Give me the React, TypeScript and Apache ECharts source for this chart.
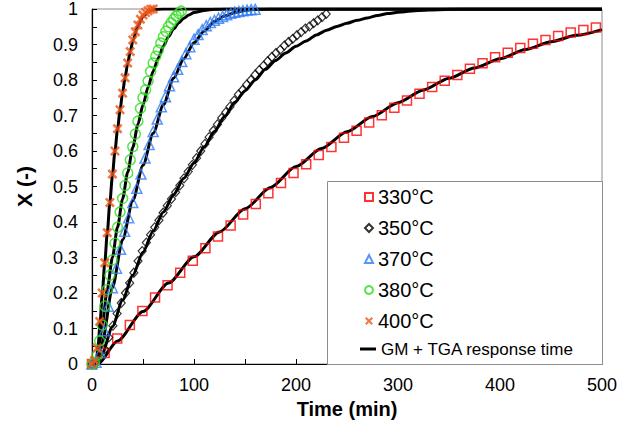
import React, { useEffect, useRef } from "react";
import * as echarts from "echarts";

// ---- Experimental data (time in min, conversion X) ----
const t330 = [0, 12.4, 24.7, 37.1, 49.4, 61.8, 74.1, 86.5, 98.8, 111.2, 123.5, 135.9, 148.2, 160.6, 172.9, 185.3, 197.6, 210, 222.3, 234.7, 247, 259.4, 271.7, 284.1, 296.4, 308.8, 321.1, 333.5, 345.8, 358.2, 370.5, 382.9, 395.2, 407.6, 419.9, 432.3, 444.6, 457, 469.3, 481.7, 494];
const x330 = [0, 0.031, 0.072, 0.11, 0.149, 0.187, 0.222, 0.257, 0.291, 0.326, 0.359, 0.39, 0.421, 0.451, 0.481, 0.51, 0.538, 0.563, 0.589, 0.611, 0.637, 0.657, 0.68, 0.701, 0.722, 0.742, 0.761, 0.78, 0.798, 0.814, 0.832, 0.847, 0.864, 0.877, 0.89, 0.902, 0.913, 0.924, 0.934, 0.941, 0.948];

const t350 = [0, 4.1, 8.2, 12.3, 16.4, 20.5, 24.6, 28.7, 32.8, 36.9, 41, 45.1, 49.2, 53.3, 57.4, 61.5, 65.6, 69.7, 73.8, 77.9, 82, 86.1, 90.2, 94.3, 98.4, 102.5, 106.6, 110.7, 114.8, 118.9, 123, 127.1, 131.2, 135.3, 139.4, 143.5, 147.6, 151.7, 155.8, 159.9, 164, 168.1, 172.2, 176.3, 180.4, 184.5, 188.6, 192.7, 196.8, 200.9, 205, 209.1, 213.2, 217.3, 221.4, 225.5, 229.6];
const x350 = [0, 0.003, 0.018, 0.042, 0.075, 0.108, 0.142, 0.172, 0.2, 0.228, 0.257, 0.29, 0.318, 0.342, 0.364, 0.385, 0.405, 0.426, 0.446, 0.465, 0.484, 0.503, 0.523, 0.542, 0.561, 0.58, 0.6, 0.62, 0.639, 0.657, 0.675, 0.693, 0.709, 0.725, 0.742, 0.759, 0.772, 0.787, 0.8, 0.815, 0.828, 0.84, 0.853, 0.865, 0.876, 0.885, 0.897, 0.907, 0.916, 0.926, 0.935, 0.945, 0.951, 0.96, 0.968, 0.977, 0.986];

const t370 = [0, 4, 8, 12, 16, 20, 24, 28, 32, 36, 40, 44, 48, 52, 56, 60, 64, 68, 72, 76, 80, 84, 88, 92, 96, 100, 104, 108, 112, 116, 120, 124, 128, 132, 136, 140, 144, 148, 152, 156, 160];
const x370 = [0, 0.005, 0.032, 0.094, 0.163, 0.215, 0.27, 0.323, 0.374, 0.412, 0.455, 0.495, 0.535, 0.58, 0.618, 0.655, 0.69, 0.725, 0.753, 0.784, 0.809, 0.83, 0.852, 0.874, 0.894, 0.915, 0.928, 0.942, 0.953, 0.962, 0.968, 0.974, 0.979, 0.984, 0.988, 0.991, 0.993, 0.995, 0.997, 0.998, 0.999];

const t380 = [0, 2.5, 5, 7.5, 10, 12.5, 15, 17.5, 20, 22.5, 25, 27.5, 30, 32.5, 35, 37.5, 40, 42.5, 45, 47.5, 50, 52.5, 55, 57.5, 60, 62.5, 65, 67.5, 70, 72.5, 75, 77.5, 80, 82.5, 85, 87.5];
const x380 = [0, 0.005, 0.025, 0.065, 0.11, 0.163, 0.21, 0.25, 0.293, 0.34, 0.385, 0.428, 0.466, 0.503, 0.538, 0.575, 0.612, 0.648, 0.684, 0.72, 0.75, 0.772, 0.797, 0.824, 0.848, 0.867, 0.884, 0.904, 0.922, 0.937, 0.95, 0.961, 0.971, 0.98, 0.988, 0.994];

const t400 = [0, 2.5, 5, 7.5, 10, 12.5, 15, 17.5, 20, 22.5, 25, 27.5, 30, 32.5, 35, 37.5, 40, 42.5, 45, 47.5, 50, 52.5, 55, 57.5, 60];
const x400 = [0, 0.01, 0.045, 0.12, 0.2, 0.285, 0.37, 0.455, 0.535, 0.6, 0.663, 0.716, 0.763, 0.806, 0.848, 0.88, 0.913, 0.936, 0.955, 0.971, 0.983, 0.99, 0.995, 0.999, 1.0];

// ---- Model curves (GM + TGA response time) ----
const m330T = [0, 6, 25, 50, 75, 100, 125, 150, 175, 200, 225, 250, 275, 300, 325, 350, 375, 400, 425, 450, 475, 500];
const m330X = [0, 0, 0.065, 0.148, 0.228, 0.302, 0.372, 0.437, 0.497, 0.556, 0.607, 0.654, 0.697, 0.736, 0.772, 0.805, 0.834, 0.86, 0.886, 0.908, 0.926, 0.942];

const m350T = [0, 5, 10, 20, 30, 40, 50, 60, 70, 80, 90, 100, 110, 120, 130, 140, 150, 160, 170, 180, 190, 200, 210, 220, 230, 240, 250, 260, 270, 280, 290, 300, 320, 340, 360, 500];
const m350X = [0, 0, 0.03, 0.105, 0.18, 0.25, 0.315, 0.375, 0.428, 0.477, 0.523, 0.566, 0.612, 0.655, 0.697, 0.737, 0.77, 0.8, 0.83, 0.855, 0.876, 0.895, 0.91, 0.927, 0.94, 0.951, 0.96, 0.968, 0.975, 0.982, 0.987, 0.991, 0.996, 0.998, 1, 1];

const m370T = [0, 5, 10, 20, 30, 40, 50, 60, 70, 80, 90, 100, 110, 120, 130, 140, 150, 160, 175, 500];
const m370X = [0, 0, 0.06, 0.215, 0.35, 0.46, 0.56, 0.65, 0.73, 0.805, 0.86, 0.905, 0.938, 0.965, 0.98, 0.99, 0.996, 0.999, 1, 1];

const m380T = [0, 4, 7, 10, 15, 20, 25, 30, 35, 40, 45, 50, 55, 60, 65, 70, 75, 80, 85, 90, 95, 100, 110, 120, 130, 500];
const m380X = [0, 0, 0.05, 0.11, 0.21, 0.3, 0.385, 0.465, 0.54, 0.61, 0.675, 0.73, 0.78, 0.825, 0.862, 0.895, 0.922, 0.944, 0.961, 0.974, 0.983, 0.99, 0.996, 0.999, 1, 1];

const m400T = [0, 4, 6, 8, 10, 12.5, 15, 17.5, 20, 22.5, 25, 27.5, 30, 32.5, 35, 37.5, 40, 45, 50, 55, 60, 70, 500];
const m400X = [0, 0, 0.05, 0.12, 0.195, 0.285, 0.37, 0.455, 0.53, 0.6, 0.66, 0.715, 0.765, 0.808, 0.847, 0.88, 0.91, 0.952, 0.978, 0.992, 0.998, 1, 1];

const seriesNames = ["330°C", "350°C", "370°C", "380°C", "400°C"];
const modelName = "GM + TGA response time";

const zip = (a: number[], b: number[]) => {
  const n = Math.min(a.length, b.length);
  const out: number[][] = [];
  for (let i = 0; i < n; i++) out.push([a[i], b[i]]);
  return out;
};

const crossPath =
  "path://M0,1.8L1.8,0L5,3.2L8.2,0L10,1.8L6.8,5L10,8.2L8.2,10L5,6.8L1.8,10L0,8.2L3.2,5Z";

export default function App() {
  const ref = useRef<HTMLDivElement>(null);
  useEffect(() => {
    if (!ref.current) return;
    const chart = echarts.init(ref.current, undefined, { renderer: "svg" });
    const font = "Liberation Sans, Arial, Helvetica, sans-serif";

    const scatter = (name: string, t: number[], x: number[], symbol: string, size: number | number[], color: string, hollow: boolean, bw = 1.5) => ({
      type: "scatter",
      name,
      data: zip(t, x),
      symbol,
      symbolSize: size,
      z: 3,
      itemStyle: hollow
        ? { color: "transparent", borderColor: color, borderWidth: bw }
        : { color, borderWidth: 0 },
    });

    const model = (t: number[], x: number[]) => ({
      type: "line",
      name: modelName,
      data: zip(t, x),
      symbol: "none",
      showSymbol: false,
      smooth: 0.25,
      smoothMonotone: "x",
      z: 2,
      lineStyle: { color: "#000", width: 3 },
      itemStyle: { color: "#000" },
    });

    const axisCommon = {
      axisLine: { show: true, onZero: false, lineStyle: { color: "#000", width: 1.2 } },
      axisTick: { show: true, inside: true, length: 5, lineStyle: { color: "#000", width: 1 } },
      minorTick: { show: true, splitNumber: 2, length: 5, lineStyle: { color: "#000", width: 1 } },
      splitLine: { show: false },
      minorSplitLine: { show: false },
    };

    chart.setOption({
      animation: false,
      textStyle: { fontFamily: font },
      grid: {
        left: 92,
        right: 31,
        top: 9,
        bottom: 66,
        show: true,
        borderColor: "#8c8c8c",
        borderWidth: 1,
        containLabel: false,
        outerBoundsMode: "none",
      },
      xAxis: {
        type: "value",
        min: 0,
        max: 500,
        interval: 100,
        name: "Time (min)",
        nameLocation: "middle",
        nameGap: 35,
        nameTextStyle: { fontSize: 20, fontWeight: "bold", color: "#000", fontFamily: font },
        axisLabel: { fontSize: 18, color: "#000", margin: 12, fontFamily: font },
        ...axisCommon,
      },
      yAxis: {
        type: "value",
        min: 0,
        max: 1,
        interval: 0.1,
        name: "X (-)",
        nameLocation: "middle",
        nameGap: 57,
        nameTextStyle: { fontSize: 21, fontWeight: "bold", color: "#000", fontFamily: font },
        axisLabel: {
          fontSize: 18,
          color: "#000",
          margin: 14,
          fontFamily: font,
          formatter: (v: number) => (v === 0 ? "0" : v === 1 ? "1" : v.toFixed(1)),
        },
        ...axisCommon,
      },
      legend: [
        {
          orient: "vertical",
          left: 359,
          top: 182,
          itemGap: 11,
          itemWidth: 8,
          itemHeight: 8,
          z: 6,
          textStyle: { fontSize: 20, color: "#000", fontFamily: font, padding: [0, 0, 0, 0] },
          data: seriesNames,
        },
        {
          orient: "vertical",
          left: 355,
          top: 334,
          itemWidth: 16,
          itemHeight: 3,
          z: 6,
          icon: "rect",
          itemStyle: { color: "#000", borderWidth: 0 },
          textStyle: { fontSize: 17, lineHeight: 20, color: "#000", fontFamily: font },
          data: [modelName],
        },
      ],
      graphic: [
        {
          type: "rect",
          left: 327,
          top: 181,
          z: 5,
          shape: { width: 275, height: 183 },
          style: { fill: "#fff", stroke: "#8c8c8c", lineWidth: 1 },
        },
      ],
      series: [
        model(m330T, m330X),
        model(m350T, m350X),
        model(m370T, m370X),
        model(m380T, m380X),
        model(m400T, m400X),
        scatter(seriesNames[0], t330, x330, "rect", 9, "#ff0000", true),
        scatter(seriesNames[1], t350, x350, "diamond", [8, 9], "#000000", true, 1.2),
        scatter(seriesNames[2], t370, x370, "triangle", 10, "#2f7cf6", true),
        scatter(seriesNames[3], t380, x380, "circle", 10, "#2edc1e", true),
        scatter(seriesNames[4], t400, x400, crossPath, 10, "#ee5418", false),
      ],
    });
    return () => chart.dispose();
  }, []);
  return (
    <div
      ref={ref}
      style={{ position: "fixed", left: 0, top: 0, width: 633, height: 430, background: "#fff" }}
    />
  );
}
